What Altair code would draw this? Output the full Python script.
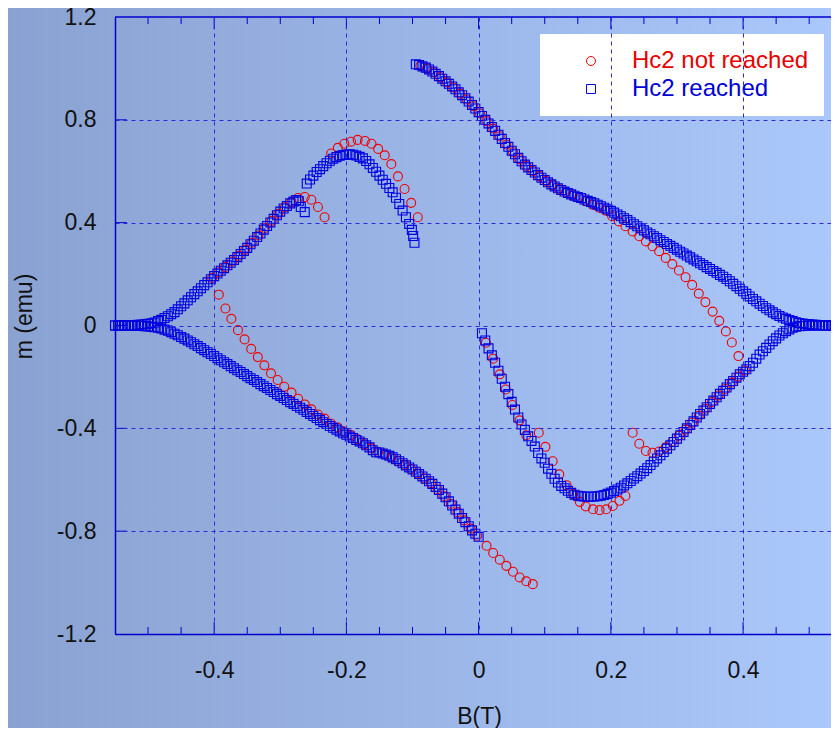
import altair as alt
import pandas as pd

SERIES = ["Hc2 not reached", "Hc2 reached"]
COLORS = ["#ee0000", "#0000e0"]
SHAPES = ["circle", "square"]
FONT = "Liberation Sans"

x_major = [-0.4, -0.2, 0.0, 0.2, 0.4]
x_minor = [-0.5, -0.45, -0.35, -0.3, -0.25, -0.15, -0.1, -0.05,
           0.05, 0.1, 0.15, 0.25, 0.3, 0.35, 0.45, 0.5]
y_major = [-1.2, -0.8, -0.4, 0.0, 0.4, 0.8, 1.2]
y_inner = [-0.8, -0.4, 0.0, 0.4, 0.8]

r1_B = [0.393, 0.383, 0.374, 0.364, 0.354, 0.343, 0.333, 0.323, 0.313, 0.303,
        0.293, 0.283, 0.273, 0.263, 0.253, 0.243, 0.233, 0.222, 0.212, 0.202,
        0.192, 0.182, 0.172, 0.162, 0.152, 0.142, 0.132, 0.122, 0.112, 0.102,
        0.092, 0.082, 0.072, 0.062, 0.052, 0.042, 0.032, 0.022, 0.012, 0.002,
        -0.008, -0.018, -0.028, -0.038, -0.048, -0.058, -0.068, -0.078, -0.088]
r1_m = [-0.119, -0.066, -0.023, 0.018, 0.054, 0.091, 0.124, 0.158, 0.188, 0.214,
        0.239, 0.263, 0.289, 0.308, 0.327, 0.347, 0.366, 0.386, 0.405, 0.425,
        0.447, 0.458, 0.470, 0.483, 0.496, 0.507, 0.519, 0.531, 0.546, 0.562,
        0.581, 0.601, 0.621, 0.647, 0.674, 0.704, 0.736, 0.766, 0.795, 0.825,
        0.853, 0.879, 0.902, 0.926, 0.946, 0.966, 0.985, 1.000, 1.010]
r2_B = [-0.092, -0.102, -0.112, -0.122, -0.132, -0.142, -0.152, -0.162, -0.172, -0.183,
        -0.193, -0.203, -0.213, -0.223]
r2_m = [0.421, 0.477, 0.531, 0.580, 0.628, 0.662, 0.687, 0.707, 0.718, 0.722,
        0.715, 0.707, 0.691, 0.669]
r3_B = [-0.233, -0.243, -0.253, -0.263, -0.273, -0.283, -0.293, -0.303, -0.313, -0.323,
        -0.333, -0.343, -0.353, -0.363, -0.373, -0.383, -0.393, -0.403]
r3_m = [0.421, 0.461, 0.489, 0.500, 0.496, 0.480, 0.460, 0.435, 0.407, 0.379,
        0.350, 0.322, 0.295, 0.271, 0.249, 0.228, 0.207, 0.185]
r4_B = [-0.393, -0.383, -0.374, -0.364, -0.354, -0.344, -0.334, -0.324, -0.314, -0.304,
        -0.294, -0.283, -0.273, -0.263, -0.253, -0.243, -0.233, -0.223, -0.213, -0.203,
        -0.193, -0.183, -0.173, -0.162, -0.152, -0.142, -0.132, -0.122, -0.112, -0.102,
        -0.092, -0.082, -0.072, -0.062, -0.052, -0.042, -0.032, -0.022, -0.012, -0.002,
        0.012, 0.022, 0.032, 0.042, 0.052, 0.062, 0.072, 0.082]
r4_m = [0.120, 0.066, 0.026, -0.018, -0.054, -0.091, -0.123, -0.155, -0.186, -0.212,
        -0.238, -0.261, -0.285, -0.307, -0.326, -0.346, -0.362, -0.382, -0.397, -0.413,
        -0.426, -0.443, -0.462, -0.478, -0.492, -0.502, -0.513, -0.527, -0.542, -0.558,
        -0.576, -0.595, -0.614, -0.637, -0.664, -0.694, -0.726, -0.758, -0.790, -0.818,
        -0.857, -0.885, -0.911, -0.935, -0.958, -0.980, -0.995, -1.006]
r5_B = [0.091, 0.101, 0.112, 0.122, 0.133, 0.143, 0.153, 0.162, 0.173, 0.183,
        0.193, 0.203, 0.213, 0.222]
r5_m = [-0.417, -0.472, -0.528, -0.579, -0.621, -0.656, -0.686, -0.704, -0.715, -0.718,
        -0.715, -0.702, -0.682, -0.663]
r6_B = [0.233, 0.243, 0.253, 0.263, 0.273, 0.283, 0.293, 0.303, 0.313, 0.323,
        0.333, 0.343, 0.353, 0.363, 0.373, 0.383, 0.393, 0.403]
r6_m = [-0.417, -0.460, -0.488, -0.495, -0.490, -0.474, -0.452, -0.429, -0.405, -0.378,
        -0.351, -0.324, -0.298, -0.272, -0.247, -0.222, -0.198, -0.175]
r7_B = [0.011, 0.022, 0.032, 0.041, 0.051, 0.062, 0.072]
r7_m = [-0.067, -0.129, -0.190, -0.249, -0.309, -0.369, -0.427]

b1_B = [-0.095, -0.090, -0.085, -0.080, -0.075, -0.070, -0.065, -0.060, -0.055, -0.050,
        -0.045, -0.040, -0.035, -0.030, -0.025, -0.020, -0.015, -0.010, -0.005, 0.000,
        0.005, 0.010, 0.015, 0.020, 0.025, 0.030, 0.035, 0.040, 0.045, 0.050,
        0.055, 0.060, 0.065, 0.070, 0.075, 0.080, 0.085, 0.090, 0.095, 0.100,
        0.105, 0.110, 0.115, 0.120, 0.125, 0.130, 0.135, 0.140, 0.145, 0.150,
        0.155, 0.160, 0.165, 0.170, 0.175, 0.180, 0.185, 0.190, 0.195, 0.200,
        0.205, 0.210, 0.215, 0.220, 0.225, 0.230, 0.235, 0.240, 0.245, 0.250,
        0.255, 0.260, 0.265, 0.270, 0.275, 0.280, 0.285, 0.290, 0.295, 0.300,
        0.305, 0.310, 0.315, 0.320, 0.325, 0.330, 0.335, 0.340, 0.345, 0.350,
        0.355, 0.360, 0.365, 0.370, 0.375, 0.380, 0.385, 0.390, 0.395, 0.400,
        0.405, 0.410, 0.415, 0.420, 0.425, 0.430, 0.435, 0.440, 0.445, 0.450,
        0.455, 0.460, 0.465, 0.470, 0.475, 0.480, 0.485, 0.490, 0.495, 0.500,
        0.505, 0.510, 0.515, 0.520, 0.525, 0.530, 0.535, 0.540, 0.545]
b1_m = [1.016, 1.013, 1.008, 1.003, 0.996, 0.988, 0.979, 0.970, 0.960, 0.950,
        0.940, 0.930, 0.919, 0.907, 0.896, 0.884, 0.871, 0.858, 0.844, 0.830,
        0.815, 0.800, 0.786, 0.772, 0.757, 0.742, 0.726, 0.710, 0.695, 0.680,
        0.666, 0.652, 0.639, 0.626, 0.615, 0.605, 0.595, 0.585, 0.575, 0.566,
        0.557, 0.549, 0.541, 0.534, 0.527, 0.521, 0.515, 0.510, 0.505, 0.500,
        0.496, 0.490, 0.485, 0.480, 0.475, 0.470, 0.464, 0.458, 0.452, 0.446,
        0.439, 0.432, 0.425, 0.417, 0.410, 0.402, 0.394, 0.386, 0.378, 0.370,
        0.362, 0.355, 0.347, 0.340, 0.332, 0.325, 0.317, 0.310, 0.302, 0.295,
        0.287, 0.280, 0.272, 0.265, 0.257, 0.250, 0.242, 0.235, 0.227, 0.220,
        0.212, 0.205, 0.197, 0.190, 0.181, 0.172, 0.162, 0.153, 0.143, 0.133,
        0.123, 0.113, 0.103, 0.094, 0.085, 0.076, 0.067, 0.059, 0.051, 0.044,
        0.037, 0.031, 0.026, 0.021, 0.017, 0.013, 0.010, 0.008, 0.006, 0.005,
        0.004, 0.003, 0.002, 0.002, 0.001, 0.001, 0.000, 0.000, 0.000]
b2_B = [-0.550, -0.545, -0.540, -0.535, -0.530, -0.525, -0.520, -0.515, -0.510, -0.505,
        -0.500, -0.495, -0.490, -0.485, -0.480, -0.475, -0.470, -0.465, -0.460, -0.455,
        -0.450, -0.445, -0.440, -0.435, -0.430, -0.425, -0.420, -0.415, -0.410, -0.405,
        -0.400, -0.395, -0.390, -0.385, -0.380, -0.375, -0.370, -0.365, -0.360, -0.355,
        -0.350, -0.345, -0.340, -0.335, -0.330, -0.325, -0.320, -0.315, -0.310, -0.305,
        -0.300, -0.295, -0.290, -0.285, -0.280, -0.275, -0.270, -0.265, -0.260, -0.255,
        -0.250, -0.245, -0.240, -0.235, -0.230, -0.225, -0.220, -0.215, -0.210, -0.205,
        -0.200, -0.195, -0.190, -0.185, -0.180, -0.175, -0.170, -0.165, -0.160, -0.155,
        -0.150, -0.145, -0.140, -0.135, -0.130, -0.125, -0.120, -0.115, -0.110, -0.105,
        -0.100, -0.095, -0.090, -0.085, -0.080, -0.075, -0.070, -0.065, -0.060, -0.055,
        -0.050, -0.045, -0.040, -0.035, -0.030, -0.025, -0.020, -0.015, -0.010, -0.005,
        0.000]
b2_m = [0.000, 0.000, 0.000, 0.000, 0.000, -0.001, -0.001, -0.002, -0.002, -0.003,
        -0.004, -0.005, -0.007, -0.009, -0.012, -0.016, -0.020, -0.026, -0.032, -0.038,
        -0.045, -0.051, -0.058, -0.065, -0.073, -0.080, -0.088, -0.096, -0.104, -0.111,
        -0.119, -0.127, -0.135, -0.143, -0.150, -0.158, -0.166, -0.174, -0.181, -0.189,
        -0.197, -0.205, -0.212, -0.220, -0.228, -0.236, -0.243, -0.251, -0.259, -0.267,
        -0.274, -0.282, -0.290, -0.298, -0.305, -0.313, -0.320, -0.328, -0.336, -0.344,
        -0.352, -0.360, -0.368, -0.376, -0.383, -0.391, -0.398, -0.405, -0.412, -0.419,
        -0.425, -0.432, -0.438, -0.445, -0.451, -0.458, -0.466, -0.474, -0.485, -0.493,
        -0.494, -0.498, -0.502, -0.507, -0.513, -0.520, -0.528, -0.536, -0.544, -0.552,
        -0.560, -0.569, -0.578, -0.587, -0.596, -0.606, -0.616, -0.628, -0.640, -0.654,
        -0.668, -0.684, -0.700, -0.716, -0.732, -0.749, -0.765, -0.781, -0.797, -0.810,
        -0.822]
b3_B = [-0.550, -0.545, -0.540, -0.535, -0.530, -0.525, -0.520, -0.515, -0.510, -0.505,
        -0.500, -0.495, -0.490, -0.485, -0.480, -0.475, -0.470, -0.465, -0.460, -0.455,
        -0.450, -0.445, -0.440, -0.435, -0.430, -0.425, -0.420, -0.415, -0.410, -0.405,
        -0.400, -0.395, -0.390, -0.385, -0.380, -0.375, -0.370, -0.365, -0.360, -0.355,
        -0.350, -0.345, -0.340, -0.335, -0.330, -0.325, -0.320, -0.315, -0.310, -0.305,
        -0.300, -0.295, -0.290, -0.285, -0.280, -0.276, -0.272, -0.269, -0.263]
b3_m = [0.000, 0.000, 0.000, 0.001, 0.001, 0.001, 0.002, 0.003, 0.004, 0.005,
        0.007, 0.009, 0.012, 0.017, 0.022, 0.029, 0.036, 0.044, 0.052, 0.063,
        0.075, 0.086, 0.098, 0.110, 0.122, 0.133, 0.145, 0.157, 0.168, 0.180,
        0.192, 0.202, 0.213, 0.223, 0.234, 0.244, 0.255, 0.266, 0.278, 0.290,
        0.302, 0.316, 0.330, 0.344, 0.358, 0.373, 0.387, 0.401, 0.415, 0.429,
        0.443, 0.455, 0.465, 0.475, 0.482, 0.488, 0.483, 0.461, 0.441]
b5_B = [-0.260, -0.255, -0.250, -0.245, -0.240, -0.235, -0.230, -0.225, -0.220, -0.215,
        -0.210, -0.205, -0.200, -0.195, -0.190, -0.185, -0.180, -0.175, -0.170, -0.165,
        -0.160, -0.155, -0.150, -0.145, -0.140, -0.135, -0.130, -0.125, -0.120, -0.115,
        -0.110, -0.105, -0.101, -0.099, -0.097]
b5_m = [0.552, 0.568, 0.583, 0.597, 0.608, 0.620, 0.631, 0.641, 0.649, 0.655,
        0.660, 0.663, 0.665, 0.666, 0.664, 0.661, 0.656, 0.650, 0.640, 0.627,
        0.613, 0.598, 0.583, 0.567, 0.551, 0.535, 0.518, 0.497, 0.473, 0.447,
        0.421, 0.395, 0.372, 0.348, 0.322]
b4_B = [0.005, 0.010, 0.015, 0.020, 0.025, 0.030, 0.035, 0.040, 0.045, 0.050,
        0.055, 0.060, 0.065, 0.070, 0.075, 0.080, 0.085, 0.090, 0.095, 0.100,
        0.105, 0.110, 0.115, 0.120, 0.125, 0.130, 0.135, 0.140, 0.145, 0.150,
        0.155, 0.160, 0.165, 0.170, 0.175, 0.180, 0.185, 0.190, 0.195, 0.200,
        0.205, 0.210, 0.215, 0.220, 0.225, 0.230, 0.235, 0.240, 0.245, 0.250,
        0.255, 0.260, 0.265, 0.270, 0.275, 0.280, 0.285, 0.290, 0.295, 0.300,
        0.305, 0.310, 0.315, 0.320, 0.325, 0.330, 0.335, 0.340, 0.345, 0.350,
        0.355, 0.360, 0.365, 0.370, 0.375, 0.380, 0.385, 0.390, 0.395, 0.400,
        0.405, 0.410, 0.415, 0.420, 0.425, 0.430, 0.435, 0.440, 0.445, 0.450,
        0.455, 0.460, 0.465, 0.470, 0.475, 0.480, 0.485, 0.490, 0.495, 0.500,
        0.505, 0.510, 0.515, 0.520, 0.525, 0.530, 0.535, 0.540, 0.545]
b4_m = [-0.030, -0.058, -0.089, -0.116, -0.145, -0.176, -0.207, -0.238, -0.267, -0.297,
        -0.327, -0.358, -0.385, -0.406, -0.431, -0.449, -0.471, -0.496, -0.517, -0.534,
        -0.557, -0.577, -0.596, -0.611, -0.624, -0.633, -0.643, -0.651, -0.658, -0.662,
        -0.664, -0.665, -0.666, -0.666, -0.665, -0.664, -0.662, -0.659, -0.655, -0.650,
        -0.644, -0.638, -0.631, -0.622, -0.614, -0.605, -0.595, -0.586, -0.576, -0.566,
        -0.555, -0.543, -0.530, -0.517, -0.505, -0.492, -0.479, -0.466, -0.453, -0.440,
        -0.427, -0.414, -0.400, -0.387, -0.373, -0.358, -0.344, -0.331, -0.318, -0.305,
        -0.292, -0.279, -0.266, -0.254, -0.241, -0.228, -0.216, -0.203, -0.190, -0.180,
        -0.170, -0.158, -0.145, -0.129, -0.113, -0.100, -0.087, -0.074, -0.061, -0.050,
        -0.039, -0.030, -0.022, -0.015, -0.009, -0.005, -0.003, -0.002, -0.001, 0.000,
        0.000, 0.000, 0.000, 0.000, 0.000, 0.000, 0.000, 0.000, 0.000]

red_parts = [(r1_B, r1_m), (r2_B, r2_m), (r3_B, r3_m), (r4_B, r4_m),
             (r5_B, r5_m), (r6_B, r6_m), (r7_B, r7_m)]
blue_parts = [(b1_B, b1_m), (b2_B, b2_m), (b3_B, b3_m), (b5_B, b5_m), (b4_B, b4_m)]

rows = []
for name, parts in [(SERIES[0], red_parts), (SERIES[1], blue_parts)]:
    for bs, ms in parts:
        for b, m in zip(bs, ms):
            rows.append({"B": b, "m": m, "s": name})
df = pd.DataFrame(rows)
df["k"] = range(len(df))

# plot area 716 x 617 at (107, 9) inside an 823 x 720 svg
W, H = 716, 617
PAD = {"left": 107, "top": 9, "right": 0, "bottom": 94}
AXC = "#0000cc"
GRIDC = "#2a2ad8"
TXT = "#111111"
LBL = "toString(round(datum.value*10)/10)"

xs = alt.Scale(domain=[-0.55, 0.533], nice=False, zero=False)
ys = alt.Scale(domain=[-1.2, 1.2], nice=False, zero=False)

x_axis = alt.Axis(values=x_major, grid=True, gridColor=GRIDC, gridDash=[4, 4],
                  gridWidth=1, gridOpacity=1, ticks=False, domain=True,
                  domainColor=AXC, domainWidth=1.5, labelFont=FONT,
                  labelFontSize=23, labelColor=TXT, labelPadding=25,
                  labelFlush=False, labelExpr=LBL, titleFont=FONT,
                  titleFontSize=23, titleFontWeight="normal", titleColor=TXT,
                  titleX=364, titleY=89, titleAlign="center",
                  titleBaseline="alphabetic", zindex=1)
y_axis = alt.Axis(values=y_major, grid=True, gridColor=GRIDC, gridDash=[4, 4],
                  gridWidth=1, gridOpacity=1, ticks=False, domain=True,
                  domainColor=AXC, domainWidth=1.5, labelFont=FONT,
                  labelFontSize=23, labelColor=TXT, labelPadding=19,
                  labelExpr=LBL, titleFont=FONT, titleFontSize=23,
                  titleFontWeight="normal", titleColor=TXT, titleX=-91,
                  titleY=299, titleAngle=270, titleAlign="center",
                  titleBaseline="middle", zindex=1)
XT, YT = "B(T)", "m (emu)"

bg = alt.Chart(pd.DataFrame({"z": [0]})).mark_rect(
    color=alt.Gradient(gradient="linear", x1=0, x2=1, y1=0, y2=0,
                       stops=[alt.GradientStop(offset=0, color="#8aa2d1"),
                              alt.GradientStop(offset=1, color="#abc8fc")])
).encode(x=alt.value(-PAD["left"]), x2=alt.value(W + 8),
         y=alt.value(-PAD["top"]), y2=alt.value(H + PAD["bottom"]))


def xticks(values, y0, y1):
    return alt.Chart(pd.DataFrame({"v": values})).mark_rule(
        color=AXC, strokeWidth=1).encode(
        x=alt.X("v:Q", scale=xs, axis=x_axis, title=XT),
        y=alt.value(y0), y2=alt.value(y1))


tick_layers = [
    xticks(x_major, H, H - 12), xticks(x_minor, H, H - 7),
    xticks(x_major, 0, 12), xticks(x_minor, 0, 7),
    alt.Chart(pd.DataFrame({"v": y_inner})).mark_rule(color=AXC, strokeWidth=1).encode(
        y=alt.Y("v:Q", scale=ys, axis=y_axis, title=YT),
        x=alt.value(0), x2=alt.value(12)),
]

top_border = alt.Chart(pd.DataFrame({"z": [0]})).mark_rule(
    color=AXC, strokeWidth=1.5).encode(x=alt.value(0), x2=alt.value(W), y=alt.value(0))

leg = alt.Legend(
    title=None, orient="none", legendX=425, legendY=17, fillColor="#ffffff",
    padding=15, labelFont=FONT, labelFontSize=24, labelLimit=400,
    labelColor={"expr": "datum.value == 'Hc2 reached' ? '#0000d8' : '#e80000'"},
    labelOffset=29, symbolSize=80, symbolStrokeWidth=1, symbolOffset=24,
    rowPadding=4,
)

pts = alt.Chart(df).mark_point(filled=False, size=80, strokeWidth=1.1, opacity=1).encode(
    x=alt.X("B:Q", scale=xs, axis=x_axis, title=XT),
    y=alt.Y("m:Q", scale=ys, axis=y_axis, title=YT),
    color=alt.Color("s:N", scale=alt.Scale(domain=SERIES, range=COLORS), legend=leg),
    shape=alt.Shape("s:N", scale=alt.Scale(domain=SERIES, range=SHAPES), legend=leg),
    order=alt.Order("k:Q"),
)

chart = alt.layer(bg, *tick_layers, pts, top_border).properties(
    width=W, height=H, padding=PAD, background="#9db6e6",
    autosize=alt.AutoSizeParams(type="none"),
).configure_view(stroke="transparent")

chart.save("out.html", embed_options={"renderer": "svg", "actions": False})
